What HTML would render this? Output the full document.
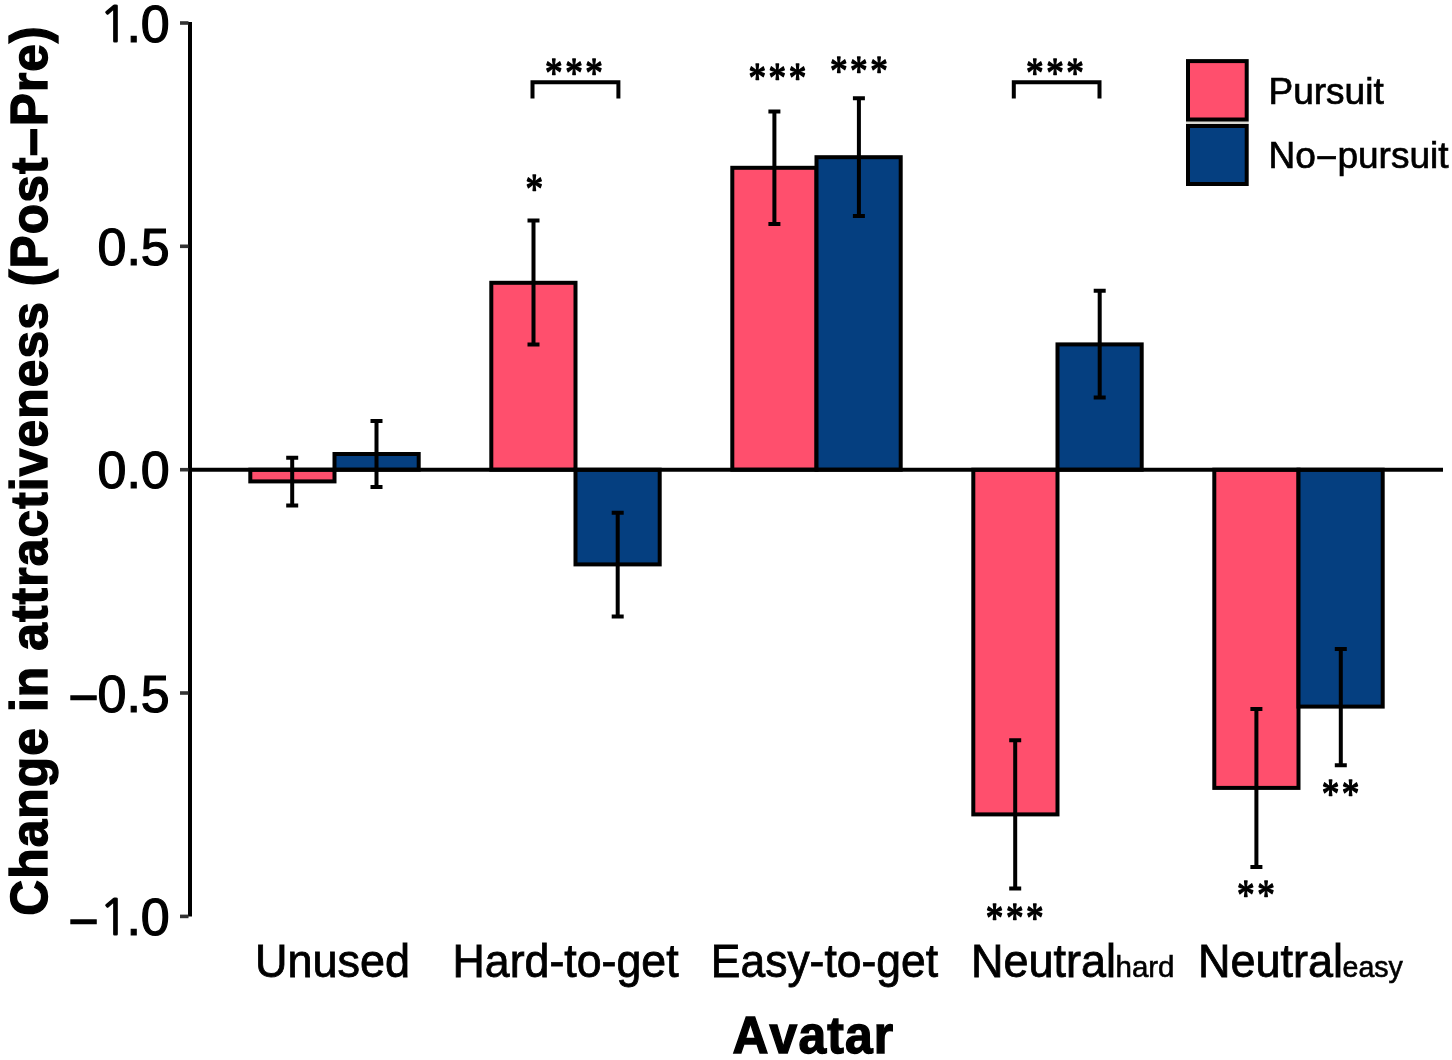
<!DOCTYPE html>
<html lang="en"><head><meta charset="utf-8"><title>Change in attractiveness by avatar</title>
<style>
html,body{margin:0;padding:0;background:#fff;}
body{width:1452px;height:1060px;overflow:hidden;}
svg{display:block;}
text{font-family:"Liberation Sans",Arial,Helvetica,sans-serif;fill:#000;}
.yt{font-size:52px;text-anchor:end;stroke:#000;stroke-width:1.2px;}
.one{font-family:"NanumGothic","Liberation Sans",sans-serif;font-size:50px;}
.xt{font-size:45px;stroke:#000;stroke-width:0.8px;}
.sub{font-size:29.5px;stroke-width:0.6px;}
.ttl{font-size:52.5px;font-weight:bold;stroke:#000;stroke-width:1.4px;font-kerning:none;letter-spacing:1.2px;}
.lg{font-size:37px;stroke:#000;stroke-width:0.7px;}
.st{font-family:"Liberation Serif","DejaVu Serif",serif;font-size:39.7px;text-anchor:middle;stroke:#000;stroke-width:1.3px;stroke-linejoin:round;letter-spacing:2.85px;}
.ln{stroke:#000;stroke-width:4;fill:none;}
.tk{stroke:#333;stroke-width:3.6;fill:none;}
.bp{fill:#FF4F6D;stroke:#000;stroke-width:4;}
.bb{fill:#053F80;stroke:#000;stroke-width:4;}
</style></head><body>
<svg width="1452" height="1060" viewBox="0 0 1452 1060">
<rect x="0" y="0" width="1452" height="1060" fill="#fff"/>
<g id="bars">
<rect class="bp" x="250.3" y="469.7" width="84.2" height="11.7"/>
<rect class="bb" x="334.5" y="454.0" width="84.2" height="15.7"/>
<rect class="bp" x="491.3" y="282.8" width="84.2" height="186.9"/>
<rect class="bb" x="575.5" y="469.7" width="84.2" height="94.7"/>
<rect class="bp" x="732.3" y="167.8" width="84.2" height="301.9"/>
<rect class="bb" x="816.5" y="157.2" width="84.2" height="312.5"/>
<rect class="bp" x="973.3" y="469.7" width="84.2" height="344.7"/>
<rect class="bb" x="1057.5" y="344.4" width="84.2" height="125.3"/>
<rect class="bp" x="1214.3" y="469.7" width="84.2" height="318.2"/>
<rect class="bb" x="1298.5" y="469.7" width="84.2" height="236.9"/>
</g>
<line class="ln" x1="190" y1="469.7" x2="1443" y2="469.7"/>
<g id="errorbars">
<path class="ln" d="M286.2 457.8H298.2M286.2 505.6H298.2M292.2 457.8V505.6"/>
<path class="ln" d="M370.5 421.0H382.5M370.5 487.0H382.5M376.5 421.0V487.0"/>
<path class="ln" d="M527.5 220.6H539.5M527.5 344.5H539.5M533.5 220.6V344.5"/>
<path class="ln" d="M611.7 512.8H623.7M611.7 616.4H623.7M617.7 512.8V616.4"/>
<path class="ln" d="M768.4 111.4H780.4M768.4 224.0H780.4M774.4 111.4V224.0"/>
<path class="ln" d="M852.9 98.3H864.9M852.9 215.9H864.9M858.9 98.3V215.9"/>
<path class="ln" d="M1009.2 740.3H1021.2M1009.2 888.6H1021.2M1015.2 740.3V888.6"/>
<path class="ln" d="M1093.7 290.8H1105.7M1093.7 397.6H1105.7M1099.7 290.8V397.6"/>
<path class="ln" d="M1250.4 709.0H1262.4M1250.4 867.0H1262.4M1256.4 709.0V867.0"/>
<path class="ln" d="M1334.8 648.9H1346.8M1334.8 765.2H1346.8M1340.8 648.9V765.2"/>
</g>
<path class="ln" d="M532.5 98.6V82.2H618.4V98.6"/>
<path class="ln" d="M1013.8 98.6V82.2H1099.5V98.6"/>
<line class="ln" x1="190" y1="22" x2="190" y2="916.6"/>
<line class="tk" x1="180" y1="23.0" x2="188.5" y2="23.0"/>
<line class="tk" x1="180" y1="246.3" x2="188.5" y2="246.3"/>
<line class="tk" x1="180" y1="469.7" x2="188.5" y2="469.7"/>
<line class="tk" x1="180" y1="693.0" x2="188.5" y2="693.0"/>
<line class="tk" x1="180" y1="916.4" x2="188.5" y2="916.4"/>
<text class="yt" transform="translate(169.8 41.7) scale(1 1.0)"><tspan class="one">1</tspan><tspan dx="-2.75">.0</tspan></text>
<text class="yt" transform="translate(169.8 265.1) scale(1 1.0)">0.5</text>
<text class="yt" transform="translate(169.8 488.4) scale(1 1.0)">0.0</text>
<text class="yt" transform="translate(169.8 711.8) scale(1 1.0)"><tspan dy="3.4">−</tspan><tspan dy="-3.4" dx="-1">0.5</tspan></text>
<text class="yt" transform="translate(169.8 935.1) scale(1 1.0)"><tspan dy="3.4">−</tspan><tspan dy="-3.4" dx="0.35" class="one">1</tspan><tspan dx="-2.75">.0</tspan></text>
<text class="st" transform="translate(575.2 87.0) scale(0.885 1.08)">***</text>
<text class="st" transform="translate(535.6 202.7) scale(0.885 1.08)">*</text>
<text class="st" transform="translate(778.6 91.5) scale(0.885 1.08)">***</text>
<text class="st" transform="translate(860.1 84.7) scale(0.885 1.08)">***</text>
<text class="st" transform="translate(1056.2 87.0) scale(0.885 1.08)">***</text>
<text class="st" transform="translate(1016.0 931.9) scale(0.885 1.08)">***</text>
<text class="st" transform="translate(1257.2 908.7) scale(0.885 1.08)">**</text>
<text class="st" transform="translate(1341.8 808.0) scale(0.885 1.08)">**</text>
<text class="xt" transform="translate(255 977.3) scale(1 1.03)">Unused</text>
<text class="xt" transform="translate(452.6 977.3) scale(0.993 1.03)">Hard-to-get</text>
<text class="xt" transform="translate(710.8 977.3) scale(0.988 1.03)">Easy-to-get</text>
<text class="xt" transform="translate(971 977.3) scale(1 1.03)">Neutral<tspan class="sub" dx="-0.5">hard</tspan></text>
<text class="xt" transform="translate(1198 977.3) scale(1 1.03)">Neutral<tspan class="sub" style="font-size:28.6px" dx="-0.5">easy</tspan></text>
<text class="ttl" transform="translate(732.5 1053.3) scale(0.948 1.0)">Avatar</text>
<text class="ttl" text-anchor="middle" transform="translate(46.6 470.5) rotate(-90) scale(0.9455 1.0)">Change in attractiveness (Post<tspan dy="4">−</tspan><tspan dy="-4">Pre)</tspan></text>
<rect x="1186" y="121" width="62.7" height="3.5" fill="#d9d9d2"/>
<rect class="bp" x="1188" y="61.1" width="58.7" height="58.4"/>
<rect class="bb" x="1188" y="126" width="58.7" height="58"/>
<text class="lg" x="1268.5" y="104.1">Pursuit</text>
<text class="lg" x="1268.5" y="168.2">No<tspan dy="2.2">−</tspan><tspan dy="-2.2">pursuit</tspan></text>
</svg></body></html>
